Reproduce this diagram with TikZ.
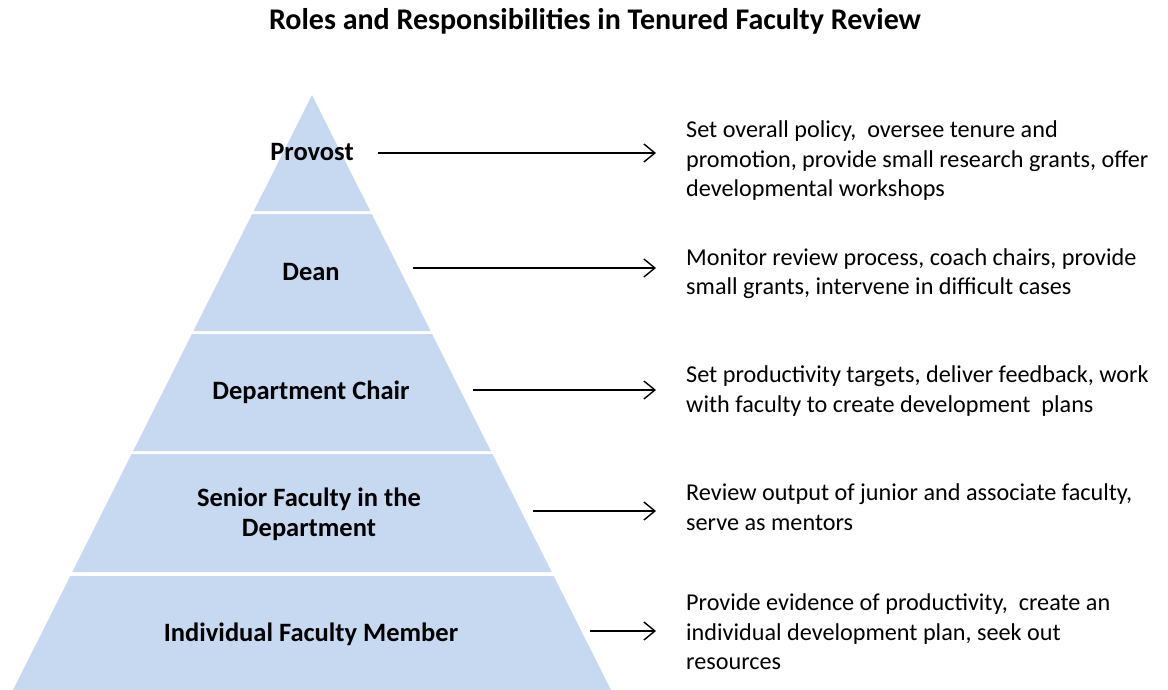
\documentclass[tikz,border=0pt]{standalone}
\usepackage{fontspec}
\setmainfont{Carlito}
\usetikzlibrary{arrows.meta}
\definecolor{bandblue}{HTML}{C6D9F1}
\newcommand{\drawBand}[2]{
    \fill[bandblue] ({312-0.5025*(#1-95)},#1) -- ({312+0.5025*(#1-95)},#1)
        -- ({312+0.5025*(#2-95)},#2) -- ({312-0.5025*(#2-95)},#2) -- cycle;
}
\tikzset{
    role/.style={font=\bfseries\fontsize{26.5}{30}\selectfont, align=center, inner sep=0pt},
    duty/.style={anchor=west, inner sep=0pt, align=left, font=\fontsize{24.2}{29.5}\selectfont},
    arr/.style={-{Straight Barb[length=11pt,width=18pt]}, line width=1.4pt, shorten >=30pt}
}

\begin{document}
\begin{tikzpicture}[x=1pt, y=-1pt]
\useasboundingbox (0,0) rectangle (1168,690);

% Title
\node[font=\bfseries\fontsize{30}{34}\selectfont] (title) at (595,21) {Roles and Responsibilities in Tenured Faculty Review};

% Pyramid bands, top to bottom
\drawBand{95}{211}
\drawBand{214}{331}
\drawBand{334}{451}
\drawBand{454}{572}
\drawBand{576}{690}

% Roles
\node[role] (provost) at (312,152) {Provost};
\node[role] (dean)    at (311,272) {Dean};
\node[role] (chair)   at (311,392) {Department Chair};
\node[role] (senior)  at (309,514) {Senior Faculty in the\\Department};
\node[role] (member)  at (311,634) {Individual Faculty Member};

% Responsibilities
\node[duty] (d1) at (686,161) {Set overall policy,\ \ oversee tenure and\\promotion, provide small research grants, offer\\developmental workshops};
\node[duty] (d2) at (686,273.5) {Monitor review process, coach chairs, provide\\small grants, intervene in difficult cases};
\node[duty] (d3) at (686,391) {Set productivity targets, deliver feedback, work\\with faculty to create development\ \ plans};
\node[duty] (d4) at (686,507) {Review output of junior and associate faculty,\\serve as mentors};
\node[duty] (d5) at (686,632) {Provide evidence of productivity,\ \ create an\\individual development plan, seek out\\resources};

% Arrows
\coordinate (s1) at (378,153);
\coordinate (s2) at (413,268);
\coordinate (s3) at (473,390);
\coordinate (s4) at (533,511);
\coordinate (s5) at (590,631);
\draw[arr] (s1) -- (s1 -| d1.west);
\draw[arr] (s2) -- (s2 -| d2.west);
\draw[arr] (s3) -- (s3 -| d3.west);
\draw[arr] (s4) -- (s4 -| d4.west);
\draw[arr] (s5) -- (s5 -| d5.west);

\end{tikzpicture}
\end{document}
